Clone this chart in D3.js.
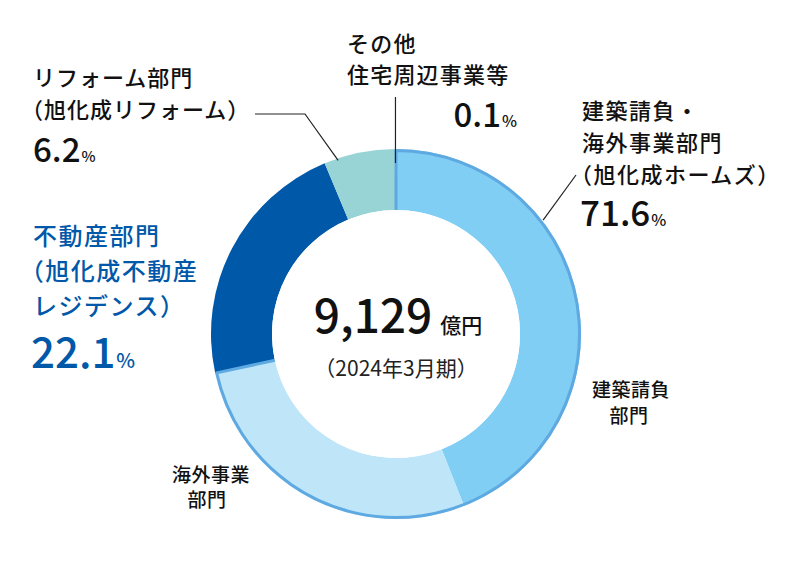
<!DOCTYPE html>
<html>
<head>
<meta charset="utf-8">
<script src="https://cdn.jsdelivr.net/npm/d3@7"></script>
<style>
  body { margin: 0; background: #fff; }
  text { font-family: "Noto Sans CJK JP", "Noto Sans", sans-serif; }
</style>
</head>
<body>
<svg id="chart"></svg>
<script>
// segment shares (%), clockwise from 12 o'clock
var segments = ['建築請負部門', '海外事業部門', '不動産部門', 'リフォーム部門', 'その他'];
var shares = [44.0, 27.6, 22.1, 6.2, 0.1];
var colors = ['#80cef4', '#bee5f8', '#0058a9', '#98d3d5', '#c8c8c8'];

// callout labels
var homesLines = ['建築請負・', '海外事業部門', '（旭化成ホームズ）'];
var homesPct = '71.6';
var realtyLines = ['不動産部門', '（旭化成不動産', 'レジデンス）'];
var realtyPct = '22.1';
var reformLines = ['リフォーム部門', '（旭化成リフォーム）'];
var reformPct = '6.2';
var otherLines = ['その他', '住宅周辺事業等'];
var otherPct = '0.1';

var total = '9,129';
var totalUnit = '億円';
var period = '（2024年3月期）';

var svgWidth = 794, svgHeight = 567;
var cx = 396, cy = 334;
var outerR = 185, innerR = 124;

var svg = d3.select('#chart')
  .attr('width', svgWidth)
  .attr('height', svgHeight);

var g = svg.append('g').attr('transform', 'translate(' + cx + ',' + cy + ')');

var pie = d3.pie().sort(null).value(function(d) { return d; });
var arcs = pie(shares);

var arc = d3.arc().innerRadius(innerR).outerRadius(outerR);

g.selectAll('path.slice')
  .data(arcs)
  .enter().append('path')
  .attr('class', 'slice')
  .attr('fill', function(d, i) { return colors[i]; })
  .attr('d', arc);

// outline around the asahi kasei homes group (first two segments)
var groupArc = d3.arc().innerRadius(innerR - 4).outerRadius(outerR - 1.5);
g.append('path')
  .attr('fill', 'none')
  .attr('stroke', '#5ea9e1')
  .attr('stroke-width', 3)
  .attr('stroke-linejoin', 'round')
  .attr('d', groupArc({ startAngle: arcs[0].startAngle, endAngle: arcs[1].endAngle }));

g.append('circle').attr('r', innerR).attr('fill', '#fff');

// point on ring for an angle (radians, clockwise from top)
function ringPt(a, r) { return [Math.sin(a) * r + cx, -Math.cos(a) * r + cy]; }

// leader lines
var lead = svg.append('g').attr('fill', 'none').attr('stroke', '#222').attr('stroke-width', 1.2);

var homesA = arcs[0].startAngle + (arcs[0].endAngle - arcs[0].startAngle) * 0.33;
var p1 = ringPt(homesA, outerR + 1);
lead.append('path').attr('d', d3.line()([p1, [576, 175]]));

var reformA = arcs[3].startAngle + (arcs[3].endAngle - arcs[3].startAngle) * 0.19;
var p2 = ringPt(reformA, outerR - 2);
lead.append('path').attr('d', d3.line()([[255, 114], [305, 114], p2]));

var otherA = (arcs[4].startAngle + arcs[4].endAngle) / 2;
var p3 = ringPt(otherA, outerR - 14);
lead.append('path').attr('d', d3.line()([[p3[0], 97], p3]));

// text blocks
function block(x, y0, step, lines, size, ls, fill) {
  var t = svg.append('g').attr('fill', fill).attr('font-size', size)
    .attr('font-weight', 500).attr('letter-spacing', ls);
  lines.forEach(function(s, i) {
    var dx = s.charAt(0) === '（' ? -size * 0.55 : 0;
    t.append('text').attr('x', x + dx).attr('y', y0 + i * step).text(s);
  });
}
function pct(x, y, val, size, pSize, fill, anchor) {
  var t = svg.append('text').attr('x', x).attr('y', y).attr('fill', fill)
    .attr('font-weight', 500).attr('text-anchor', anchor || 'start');
  t.append('tspan').attr('font-size', size).text(val);
  t.append('tspan').attr('font-size', pSize).attr('dx', 1).text('%');
}

block(582, 119, 32, homesLines, 22, 1.5, '#111');
pct(580, 226, homesPct, 35, 16, '#111');

block(33, 245, 35, realtyLines, 24, 1.5, '#0058a9');
pct(31, 368, realtyPct, 42, 20, '#0058a9');

block(33, 86, 32, reformLines, 22, 1, '#111');
pct(33, 162, reformPct, 33, 15, '#111');

block(347, 52, 31, otherLines, 22, 1.2, '#111');
pct(517, 127, otherPct, 33, 16, '#111', 'end');

// center
var c = svg.append('text').attr('x', cx + 2).attr('y', 333).attr('text-anchor', 'middle').attr('fill', '#111').attr('font-weight', 500);
c.append('tspan').attr('font-size', 46).text(total);
c.append('tspan').attr('font-size', 21).attr('dx', 8).text(totalUnit);
svg.append('text').attr('x', cx).attr('y', 376).attr('text-anchor', 'middle')
  .attr('font-size', 21).attr('fill', '#222').text(period);

// ring labels
var small = svg.append('g').attr('font-size', 19).attr('font-weight', 500).attr('fill', '#111')
  .attr('text-anchor', 'middle').attr('letter-spacing', 0.5);
small.append('text').attr('x', 631).attr('y', 397).text('建築請負');
small.append('text').attr('x', 629).attr('y', 423).text('部門');
small.append('text').attr('x', 211).attr('y', 482).text('海外事業');
small.append('text').attr('x', 207).attr('y', 507).text('部門');
</script>
</body>
</html>
